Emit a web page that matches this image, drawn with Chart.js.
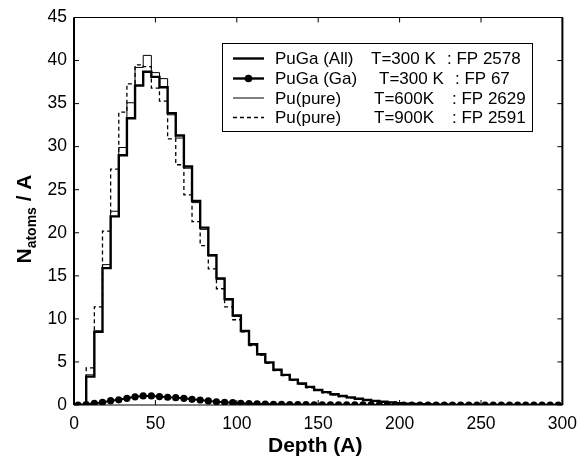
<!DOCTYPE html>
<html><head><meta charset="utf-8">
<script src="https://cdn.jsdelivr.net/npm/chart.js@4"></script>
<style>html,body{margin:0;padding:0;background:#fff}#wrap{width:586px;height:461px;position:relative}</style>
</head><body><div id="wrap"><canvas id="c" width="586" height="461"></canvas></div>
<script>
const depth = [2.5,7.5,12.5,17.5,22.5,27.5,32.5,37.5,42.5,47.5,52.5,57.5,62.5,67.5,72.5,77.5,82.5,87.5,92.5,97.5,102.5,107.5,112.5,117.5,122.5,127.5,132.5,137.5,142.5,147.5,152.5,157.5,162.5,167.5,172.5,177.5,182.5,187.5,192.5,197.5,202.5,207.5,212.5,217.5,222.5,227.5,232.5,237.5,242.5,247.5,252.5,257.5,262.5,267.5,272.5,277.5,282.5,287.5,292.5,297.5];
const puGaAll = [0,3.3,8.5,15.9,21.9,29.0,33.3,37.1,38.7,38.1,36.9,33.9,31.3,27.7,23.7,20.6,17.4,14.7,12.3,10.4,8.6,7.05,5.9,4.95,4.1,3.5,2.95,2.5,2.1,1.75,1.5,1.25,1.05,0.88,0.72,0.58,0.48,0.38,0.3,0.22,0.16,0.12,0.08,0.06,0.04,0.03,0.02,0.01,0,0,0,0,0,0,0,0,0,0,0,0];
const puGaGa = [0,0.05,0.2,0.3,0.5,0.6,0.78,0.95,1.05,1.05,0.98,0.9,0.85,0.78,0.66,0.58,0.47,0.38,0.32,0.27,0.2,0.16,0.13,0.11,0.09,0.08,0.06,0.05,0.04,0.03,0.03,0.02,0.02,0.02,0.01,0.01,0.01,0.01,0.01,0.01,0,0,0,0,0,0,0,0,0,0,0,0,0,0,0,0,0,0,0,0];
const pu600 = [0,3.5,8.6,16.3,22.5,29.9,35.1,39.2,40.6,38.6,37.9,33.7,31.0,27.5,23.5,20.4,17.3,14.6,12.2,10.3,8.6,7.0,5.85,4.9,4.05,3.45,2.9,2.45,2.05,1.72,1.45,1.2,1.0,0.85,0.7,0.56,0.46,0.36,0.28,0.2,0.15,0.11,0.08,0.05,0.04,0.03,0.02,0.01,0,0,0,0,0,0,0,0,0,0,0,0];
const pu900 = [0,4.3,11.4,20.2,27.4,34.0,37.3,39.5,39.3,36.8,35.3,30.9,27.9,24.4,21.3,18.5,15.8,13.5,11.4,9.9,8.5,6.9,5.8,4.85,4.0,3.4,2.85,2.4,2.0,1.7,1.42,1.18,0.98,0.82,0.68,0.55,0.45,0.35,0.27,0.2,0.14,0.1,0.07,0.05,0.03,0.02,0.01,0.01,0,0,0,0,0,0,0,0,0,0,0,0];
const legendRows = [
  ["PuGa (All)", "T=300 K", ": FP 2578"],
  ["PuGa (Ga)", "T=300 K", ": FP 67"],
  ["Pu(pure)", "T=600K", ": FP 2629"],
  ["Pu(pure)", "T=900K", ": FP 2591"]
];
const xTitle = "Depth (A)";
const yTitleMain = "N", yTitleSub = "atoms", yTitleRest = " / A";

const pts = arr => depth.map((d,i)=>({x:d,y:arr[i]}));
const FONT = "'Liberation Sans', Arial, sans-serif";

const frame = {
  id:'frame',
  afterDraw(chart){
    const {ctx, chartArea:a, scales:{x,y}} = chart;
    ctx.save();
    ctx.strokeStyle='#000';
    ctx.lineWidth=1.2;
    ctx.beginPath();
    ctx.moveTo(a.left,a.top);ctx.lineTo(a.right,a.top);
    ctx.moveTo(a.left,a.bottom);ctx.lineTo(a.right,a.bottom);
    ctx.stroke();
    ctx.lineWidth=2;
    ctx.beginPath();
    ctx.moveTo(a.left,a.top);ctx.lineTo(a.left,a.bottom);
    ctx.moveTo(a.right,a.top);ctx.lineTo(a.right,a.bottom);
    ctx.stroke();
    ctx.lineWidth=1;
    ctx.beginPath();
    y.ticks.forEach(t=>{const p=y.getPixelForValue(t.value);
      ctx.moveTo(a.left,p);ctx.lineTo(a.left+5,p);
      ctx.moveTo(a.right,p);ctx.lineTo(a.right-5,p);});
    x.ticks.forEach(t=>{const p=x.getPixelForValue(t.value);
      ctx.moveTo(p,a.bottom);ctx.lineTo(p,a.bottom-5);
      ctx.moveTo(p,a.top);ctx.lineTo(p,a.top+5);});
    ctx.stroke();
    // legend
    const L=222,T=43,R=533,B=132;
    ctx.fillStyle='#fff';ctx.fillRect(L,T,R-L,B-T);
    ctx.lineWidth=1;ctx.strokeRect(L+0.5,T+0.5,R-L-1,B-T-1);
    const rowY=[58.5,78.5,98,117.5];
    const colX=[[275,371,447],[275,379,455],[275,374,452],[275,374,452]];
    ctx.font="17px "+FONT;ctx.fillStyle='#000';ctx.textBaseline='middle';ctx.textAlign='left';
    legendRows.forEach((r,i)=>{
      const yy=rowY[i];
      ctx.save();
      ctx.beginPath();
      if(i<2){ctx.lineWidth=2.4;}
      else if(i===2){ctx.lineWidth=1;}
      else {ctx.lineWidth=1.3;ctx.setLineDash([4,3]);}
      ctx.moveTo(233,yy);ctx.lineTo(264,yy);ctx.stroke();
      if(i===1){ctx.beginPath();ctx.arc(248.5,yy,3.8,0,Math.PI*2);ctx.fill();}
      ctx.restore();
      r.forEach((s,j)=>ctx.fillText(s,colX[i][j],yy+1));
    });
    // axis titles
    ctx.font="bold 21px "+FONT;ctx.textAlign='center';ctx.textBaseline='alphabetic';
    ctx.fillText(xTitle,(a.left+a.right)/2-3,452);
    ctx.save();
    ctx.translate(31,219);ctx.rotate(-Math.PI/2);
    ctx.textAlign='left';
    const fMain="bold 21px "+FONT, fSub="bold 14px "+FONT;
    ctx.font=fMain;const w1=ctx.measureText(yTitleMain).width;const w3=ctx.measureText(yTitleRest).width;
    ctx.font=fSub;const w2=ctx.measureText(yTitleSub).width;
    let sx=-(w1+w2+w3)/2;
    ctx.font=fMain;ctx.fillText(yTitleMain,sx,0);sx+=w1;
    ctx.font=fSub;ctx.fillText(yTitleSub,sx,5);sx+=w2;
    ctx.font=fMain;ctx.fillText(yTitleRest,sx,0);
    ctx.restore();
    ctx.restore();
  }
};

new Chart(document.getElementById('c'),{
  type:'line',
  data:{datasets:[
    {label:'PuGa (All) T=300 K : FP 2578',data:pts(puGaAll),stepped:'before',borderColor:'#000',borderWidth:2.4,pointRadius:0,fill:false},
    {label:'Pu(pure) T=600K : FP 2629',data:pts(pu600),stepped:'before',borderColor:'#000',borderWidth:1,pointRadius:0,fill:false},
    {label:'Pu(pure) T=900K : FP 2591',data:pts(pu900),stepped:'before',borderColor:'#000',borderWidth:1.3,borderDash:[4,3],pointRadius:0,fill:false},
    {label:'PuGa (Ga) T=300 K : FP 67',data:pts(puGaGa),borderColor:'#000',backgroundColor:'#000',borderWidth:2,pointRadius:3.6,pointBorderWidth:0,fill:false,tension:0}
  ]},
  options:{
    responsive:false,animation:false,
    layout:{padding:{top:14,right:18,left:0,bottom:0}},
    plugins:{legend:{display:false},tooltip:{enabled:false}},
    scales:{
      x:{type:'linear',min:0,max:300,
        ticks:{stepSize:50,color:'#000',font:{family:FONT,size:17.5},padding:9,maxRotation:0},
        grid:{display:false,drawTicks:false},border:{display:false},
        afterFit(s){s.height=56;}},
      y:{type:'linear',min:0,max:45,
        ticks:{stepSize:5,color:'#000',font:{family:FONT,size:17.5},padding:7},
        grid:{display:false,drawTicks:false},border:{display:false},
        afterFit(s){s.width=74;}}
    }
  },
  plugins:[frame]
});
</script></body></html>
